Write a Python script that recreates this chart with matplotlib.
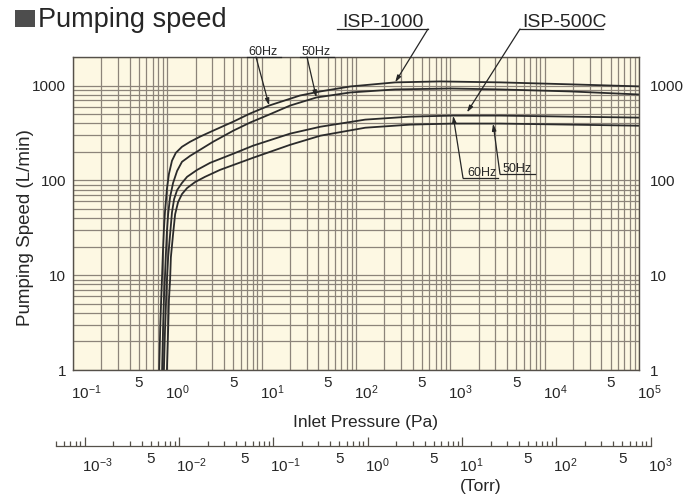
import matplotlib
matplotlib.use("Agg")
import matplotlib.pyplot as plt
import numpy as np
from matplotlib.lines import Line2D
from matplotlib.patches import Rectangle
from matplotlib.ticker import LogLocator, NullFormatter

plt.rcParams['font.family'] = ['Liberation Sans', 'DejaVu Sans']
plt.rcParams['mathtext.fontset'] = 'custom'
plt.rcParams['mathtext.rm'] = 'Liberation Sans'
plt.rcParams['mathtext.it'] = 'Liberation Sans:italic'
plt.rcParams['mathtext.bf'] = 'Liberation Sans:bold'

# inlet pressure (Pa) and pumping speed (L/min)
isp1000_60_pa = [0.82, 0.84, 0.86, 0.88, 0.90, 0.92, 0.945, 0.99, 1.04, 1.12, 1.23, 1.43, 1.74,
                 2.22, 3.05, 5.0, 7.5, 12, 25.5, 42, 87, 260, 780, 3400, 18600, 100000]
isp1000_60_sp = [1, 2.7, 5.5, 9.9, 18.7, 30.5, 47, 81, 117, 161, 195, 226, 255,
                 289, 334, 416, 506, 615, 785, 867, 978, 1080, 1105, 1080, 1030, 980]

isp1000_50_pa = [0.88, 0.90, 0.92, 0.945, 0.97, 0.99, 1.02, 1.07, 1.15, 1.27, 1.43, 1.74, 2.22,
                 3.05, 5.0, 7.5, 12, 20, 38, 87, 260, 1000, 3400, 18600, 100000]
isp1000_50_sp = [1, 2.66, 5.5, 9.9, 18.7, 29.1, 44, 66.7, 93.8, 126, 157, 181, 210,
                 255, 334, 406, 494, 615, 748, 845, 910, 931, 910, 867, 805]

isp500_60_pa = [0.92, 0.945, 0.97, 0.99, 1.02, 1.07, 1.12, 1.18, 1.27, 1.43, 1.62, 2.07,
                2.84, 5.0, 8.1, 20, 42, 125, 375, 1070, 3400, 18600, 100000]
isp500_60_sp = [1, 2.66, 5.5, 9.0, 15.4, 27, 46, 63.5, 79, 94, 109, 129,
                153, 191, 232, 311, 368, 437, 470, 482, 482, 470, 459]

isp500_50_pa = [0.99, 1.02, 1.04, 1.07, 1.09, 1.15, 1.21, 1.30, 1.43, 1.62, 1.97, 2.51,
                3.62, 8.1, 20, 42, 125, 375, 1070, 3400, 18600, 100000]
isp500_50_sp = [1, 2.66, 5.5, 9.0, 15.4, 27, 44, 59, 71.7, 83, 96, 109,
                129, 173, 237, 296, 359, 387, 397, 397, 387, 377]

speed_ticks = [1, 10, 100, 1000]
speed_labels = ["1", "10", "100", "1000"]
pa_exp = [-1, 0, 1, 2, 3, 4, 5]
pa_fives = [0.5, 5, 50, 500, 5000, 50000]
torr_exp = [-3, -2, -1, 0, 1, 2, 3]
torr_fives = [5e-3, 5e-2, 0.5, 5, 50, 500]
torr_range = [5e-4, 1e3]
pa_per_torr = 133.322

ink = "#262626"
gridc = "#8c847a"
curvec = "#2b2b2b"

W, H = 699, 495
fig = plt.figure(figsize=(W / 100, H / 100), dpi=100)
fig.patch.set_facecolor("white")


def fx(px):
    return px / W


def fy(py):
    return 1 - py / H


# main plot box in pixels
L, R, T, B = 73, 639, 57, 370


def px_of_pa(p):
    return L + (np.log10(p) + 1) / 6 * (R - L)


ax = fig.add_axes([fx(L), fy(B), (R - L) / W, (B - T) / H])
ax.set_xscale("log")
ax.set_yscale("log")
ax.set_xlim(0.1, 1e5)
ax.set_ylim(1, 2000)
ax.set_facecolor("#fdf8e3")
ax.set_axisbelow(True)
for a in (ax.xaxis, ax.yaxis):
    a.set_major_locator(LogLocator(base=10, numticks=100))
    a.set_minor_locator(LogLocator(base=10, subs=np.arange(2, 10), numticks=100))
    a.set_minor_formatter(NullFormatter())
ax.grid(True, which="both", color=gridc, lw=0.9)
for s in ax.spines.values():
    s.set_color("#555049")
    s.set_linewidth(1.0)

ax.plot(isp1000_60_pa, isp1000_60_sp, color=curvec, lw=1.3)
ax.plot(isp1000_50_pa, isp1000_50_sp, color=curvec, lw=1.3)
ax.plot(isp500_60_pa, isp500_60_sp, color=curvec, lw=1.3)
ax.plot(isp500_50_pa, isp500_50_sp, color=curvec, lw=1.3)

ax.set_yticks(speed_ticks, speed_labels)
ax.tick_params(axis="both", which="both", length=0, labelbottom=False)
ax.tick_params(axis="y", pad=5, labelsize=11, labelcolor=ink)

ax2 = ax.twinx()
ax2.set_yscale("log")
ax2.set_ylim(1, 2000)
ax2.set_yticks(speed_ticks, speed_labels)
ax2.yaxis.set_minor_formatter(NullFormatter())
ax2.tick_params(axis="y", which="both", length=0, pad=8, labelsize=11, labelcolor=ink)
for s in ax2.spines.values():
    s.set_visible(False)

# pressure tick labels (Pa)
for k in pa_exp:
    ax.annotate(r"$\mathregular{10^{%d}}$" % k, xy=(10.0 ** k, 0), xycoords=("data", "axes fraction"),
                xytext=(-1.5, -16.2), textcoords="offset points", ha="left", va="center",
                fontsize=11, color=ink, annotation_clip=False)
for v in pa_fives:
    ax.annotate("5", xy=(v, 0), xycoords=("data", "axes fraction"), xytext=(0, -9.4),
                textcoords="offset points", ha="center", va="center", fontsize=11, color=ink,
                annotation_clip=False)

# Torr scale under the chart
t0 = px_of_pa(torr_range[0] * pa_per_torr)
t1 = px_of_pa(torr_range[1] * pa_per_torr)
tax = fig.add_axes([fx(t0), fy(446), (t1 - t0) / W, 0.0001])
tax.set_xscale("log")
tax.set_xlim(*torr_range)
tax.patch.set_visible(False)
for side in ("top", "left", "right"):
    tax.spines[side].set_visible(False)
tax.spines["bottom"].set_color("#555049")
tax.spines["bottom"].set_linewidth(0.9)
tax.set_yticks([])
tax.xaxis.set_major_locator(LogLocator(base=10, numticks=100))
tax.xaxis.set_minor_locator(LogLocator(base=10, subs=np.arange(2, 10), numticks=100))
tax.xaxis.set_minor_formatter(NullFormatter())
tax.tick_params(axis="x", which="major", direction="in", length=6.5, width=0.9, color="#555049",
                labelbottom=False)
tax.tick_params(axis="x", which="minor", direction="in", length=3.5, width=0.9, color="#555049")
for k in torr_exp:
    tax.annotate(r"$\mathregular{10^{%d}}$" % k, xy=(10.0 ** k, 0), xycoords=("data", "axes fraction"),
                 xytext=(-2.2, -14.4), textcoords="offset points", ha="left", va="center",
                 fontsize=11, color=ink, annotation_clip=False)
for v in torr_fives:
    tax.annotate("5", xy=(v, 0), xycoords=("data", "axes fraction"), xytext=(0, -9.4),
                 textcoords="offset points", ha="center", va="center", fontsize=11, color=ink,
                 annotation_clip=False)
tax.annotate("(Torr)", xy=(10, 0), xycoords=("data", "axes fraction"), xytext=(-1.5, -29.5),
             textcoords="offset points", ha="left", va="center", fontsize=12.5, color=ink,
             annotation_clip=False)

# titles and axis names
fig.add_artist(Rectangle((fx(15), fy(27)), 20 / W, 17 / H, transform=fig.transFigure,
                         facecolor="#4d4d4d", edgecolor="none"))
fig.text(fx(38), fy(27), "Pumping speed", fontsize=19.5, color=ink, ha="left", va="baseline")
fig.text(fx(26), fy(228), "Pumping Speed (L/min)", fontsize=13.5, color=ink, rotation=90,
         ha="center", va="center")
fig.text(fx(293), fy(427), "Inlet Pressure (Pa)", fontsize=12.5, color=ink, ha="left", va="baseline")


def callout(text, size, tx, ty, ux0, ux1, uy, start, end):
    fig.text(fx(tx), fy(ty), text, fontsize=size, color=ink, ha="left", va="baseline")
    fig.add_artist(Line2D([fx(ux0), fx(ux1)], [fy(uy), fy(uy)], transform=fig.transFigure,
                          color=ink, lw=0.9))
    ax.annotate("", xy=end, xycoords="data", xytext=(fx(start[0]), fy(start[1])),
                textcoords="figure fraction", annotation_clip=False,
                arrowprops=dict(arrowstyle="-|>,head_length=0.5,head_width=0.15", color=ink,
                                lw=0.9, shrinkA=0, shrinkB=0, mutation_scale=8))


callout("ISP-1000", 14, 342, 27, 337, 428, 29, (428, 29), (260, 1080))
callout("ISP-500C", 14, 522, 27, 520, 603, 29, (520, 29), (1500, 520))
callout("60Hz", 9, 248, 55, 247, 281, 57, (256, 57), (12, 615))
callout("50Hz", 9, 302, 55, 300, 334, 57, (307, 57), (38, 748))
callout("60Hz", 9, 467, 176, 463, 498, 178, (463, 178), (1070, 482))
callout("50Hz", 9, 503, 172, 500, 535, 174, (500, 174), (2840, 397))

fig.savefig("out.png", dpi=100)
